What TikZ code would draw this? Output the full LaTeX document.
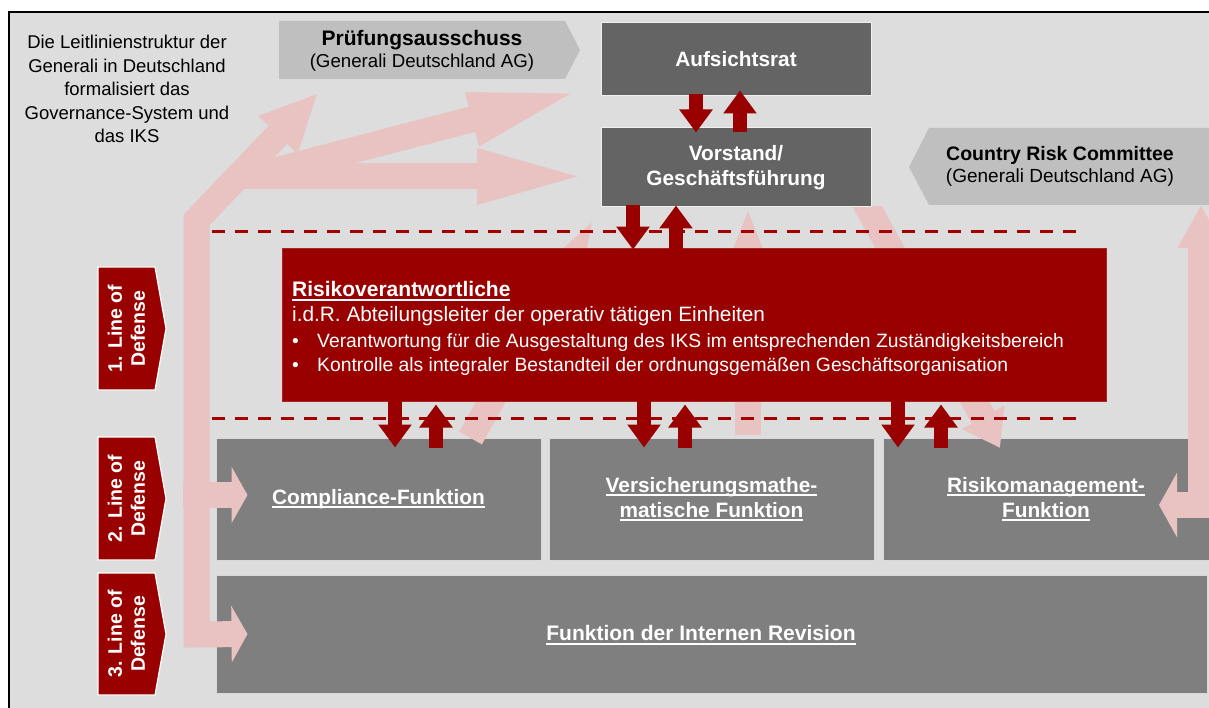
\documentclass[tikz,border=0pt]{standalone}
\usepackage{fontspec}
\setmainfont{Liberation Sans}
\usetikzlibrary{arrows.meta}
\definecolor{bg}{HTML}{DDDDDD}
\definecolor{pinkc}{RGB}{233,194,194}
\definecolor{dred}{HTML}{990000}
\definecolor{dashred}{HTML}{A30000}
\definecolor{dgray}{HTML}{646464}
\definecolor{mgray}{HTML}{7F7F7F}
\definecolor{lgray}{HTML}{BFBFBF}
\newsavebox\ulbox
\newcommand\myul[1]{\sbox\ulbox{#1}\leavevmode\rlap{\rule[-3.8pt]{\wd\ulbox}{1.7pt}}\usebox\ulbox}
\newcommand\setfs[2]{\fontsize{#1}{#2}\selectfont}
\begin{document}
\begin{tikzpicture}[x=1pt,y=-1pt,
  dbox/.style={fill=dgray, draw=white!88!gray, line width=1pt, text=white, font=\bfseries\setfs{20.8}{24.5}, align=center, inner sep=0pt},
  fbox/.style={fill=mgray, draw=white!70!gray, line width=1pt, minimum height=122pt, inner sep=0pt, text=white, font=\bfseries\setfs{20.8}{25}, align=center},
  pinkarr/.style={draw=pinkc, line width=26pt, line join=miter},
  redarr/.style={draw=dred, line width=14pt, -{Triangle[length=23pt,width=32pt]}},
  dashline/.style={draw=dashred, line width=3pt, dash pattern=on 13pt off 10pt},
  rtext/.style={text=white, inner sep=0pt, anchor=base west, font=\setfs{20.5}{24}},
  lodtext/.style={text=white, font=\bfseries\setfs{19.5}{23}, align=center, inner sep=0pt, rotate=90},
  btext/.style={text=black, inner sep=0pt, align=center}
]
\useasboundingbox (0,0) rectangle (1209,708);
\fill[white] (0,0) rectangle (1209,708);
\fill[bg] (9,12) rectangle (1209,708);
\draw[black, line width=1.5pt] (9,708) -- (9,12) -- (1209,12);

% committee shapes
\fill[lgray] (279,21) -- (565,21) -- (580,50) -- (565,79) -- (279,79) -- cycle;
\node[btext, font=\bfseries\setfs{21}{24}] (pruef) at (422,40) {Prüfungsausschuss};
\node[btext, font=\setfs{18.7}{23}] (pruefag) at (422,63) {(Generali Deutschland AG)};
\fill[lgray] (909,167) -- (929,128) -- (1209,128) -- (1209,205) -- (929,205) -- cycle;
\node[btext, font=\bfseries\setfs{19.5}{23}] (crc) at (1060,155) {Country Risk Committee};
\node[btext, font=\setfs{19}{23}] (crcag) at (1060,178) {(Generali Deutschland AG)};

% function boxes
\node[fbox, minimum width=325pt] (comp) at (378.5,499) {\myul{Compliance-Funktion}};
\node[fbox, minimum width=325pt] (vers) at (711.5,499) {\myul{Versicherungsmathe-}\\\myul{matische Funktion}};
\node[fbox, minimum width=326pt] (rm) at (1046,499) {\myul{Risikomanagement-}\\\myul{Funktion}};
\node[fbox, minimum width=991pt, minimum height=118pt] (rev) at (711.5,634) {};
\node[text=white, font=\bfseries\setfs{21}{25}, inner sep=0pt] (revt) at (701,635) {\myul{Funktion der Internen Revision}};

% pink arrows
\coordinate (pA) at (318,93);
\coordinate (pBend) at (196.5,220);
\coordinate (pLow) at (196.5,634.5);
\coordinate (pCs) at (235,176.5);
\coordinate (pBs) at (262,174);
\coordinate (pBt) at (592,88);
\coordinate (pDs) at (470.5,438);
\coordinate (pEs) at (748,435);
\coordinate (pFs) at (856,186);
\coordinate (pFt) at (1000,448);
\coordinate (pRt) at (1201,205);
\coordinate (pRc) at (1201,505);
\draw[pinkarr, {Triangle[length=58pt,width=50pt]}-{Triangle[length=16pt,width=56pt]}] (pA) -- (pBend) -- (pLow) -- ([xshift=32pt]rev.west);
\draw[pinkarr, -{Triangle[length=16pt,width=56pt]}] (183,495) -- ([xshift=32pt,yshift=4pt]comp.west);
\draw[pinkarr, -{Triangle[length=121pt,width=47pt]}] (pCs) -- (598,176.5);
\draw[pinkarr, -{Triangle[length=124pt,width=46pt]}] (pBs) -- (pBt);
\draw[pinkarr, -{Triangle[length=100pt,width=46pt]}] (pDs) -- (600,208);
\draw[pinkarr, -{Triangle[length=80pt,width=52pt]}] (pEs) -- (748,206);
\begin{scope}
\clip (0,207) rectangle (1209,708);
\draw[pinkarr, -{Triangle[length=35pt,width=46pt]}] (pFs) -- (pFt);
\end{scope}
\draw[pinkarr, {Triangle[length=43pt,width=44pt]}-{Triangle[length=18pt,width=64pt]}] (pRt) -- (pRc) -- (1159,505);

% top boxes
\node[dbox, minimum width=270pt, minimum height=73pt] (aufs) at (736,59.5) {Aufsichtsrat};
\node[dbox, minimum width=270pt, minimum height=79pt] (vor) at (736,167.5) {Vorstand/\\Geschäftsführung};

% red box
\node[fill=dred, draw=dred!85!white, line width=0.8pt, minimum width=824pt, minimum height=153pt, inner sep=0pt] (risk) at (694,324.5) {};
\node[rtext, font=\bfseries\setfs{21}{24}] (rt) at (292,297) {\myul{Risikoverantwortliche}};
\node[rtext, font=\setfs{20.8}{24}] (r1) at (292,322) {i.d.R. Abteilungsleiter der operativ tätigen Einheiten};
\node[rtext, font=\setfs{19.3}{24}] (r2) at (292,347) {\makebox[25pt][l]{•}Verantwortung für die Ausgestaltung des IKS im entsprechenden Zuständigkeitsbereich};
\node[rtext, font=\setfs{19.3}{24}] (r3) at (292,371) {\makebox[25pt][l]{•}Kontrolle als integraler Bestandteil der ordnungsgemäßen Geschäftsorganisation};

% dashed lines
\draw[dashline] (212,232) -- (1086,232);
\draw[dashline] (212,418) -- (1086,418);

% red arrows
\draw[redarr] ([xshift=-40pt,yshift=2pt]aufs.south) -- ([xshift=-40pt,yshift=-5pt]vor.north);
\draw[redarr] ([xshift=4pt,yshift=-5pt]vor.north) -- ([xshift=4pt,yshift=6pt]aufs.south);
\draw[redarr] ([xshift=-103pt,yshift=2pt]vor.south) -- ([xshift=-61pt,yshift=-2pt]risk.north);
\draw[redarr] ([xshift=-18pt,yshift=-3pt]risk.north) -- ([xshift=-60pt,yshift=2pt]vor.south);
\foreach \nd/\dx/\ux in {comp/16.5/57.5, vers/-67.5/-26.5, rm/-148/-105}{
  \draw[redarr] ([xshift=\dx pt,yshift=39pt]\nd.north) -- ([xshift=\dx pt,yshift=-10pt]\nd.north);
  \draw[redarr] ([xshift=\ux pt,yshift=-10pt]\nd.north) -- ([xshift=\ux pt,yshift=33pt]\nd.north);
}

% line of defense labels
\foreach \t/\b/\n in {267/390/1, 437/560/2, 573/695/3}{
  \filldraw[fill=dred, draw=white, line width=1.2pt] (98,\t) -- (155,\t) -- (166,{(\t+\b)/2}) -- (155,\b) -- (98,\b) -- cycle;
  \node[lodtext] (lod\n) at (126.5,{(\t+\b)/2}) {\n. Line of\\Defense};
}

% intro text
\node[btext, font=\setfs{18.5}{23.5}] (intro) at (127,89) {Die Leitlinienstruktur der\\Generali in Deutschland\\formalisiert das\\Governance-System und\\das IKS};
\end{tikzpicture}
\end{document}
